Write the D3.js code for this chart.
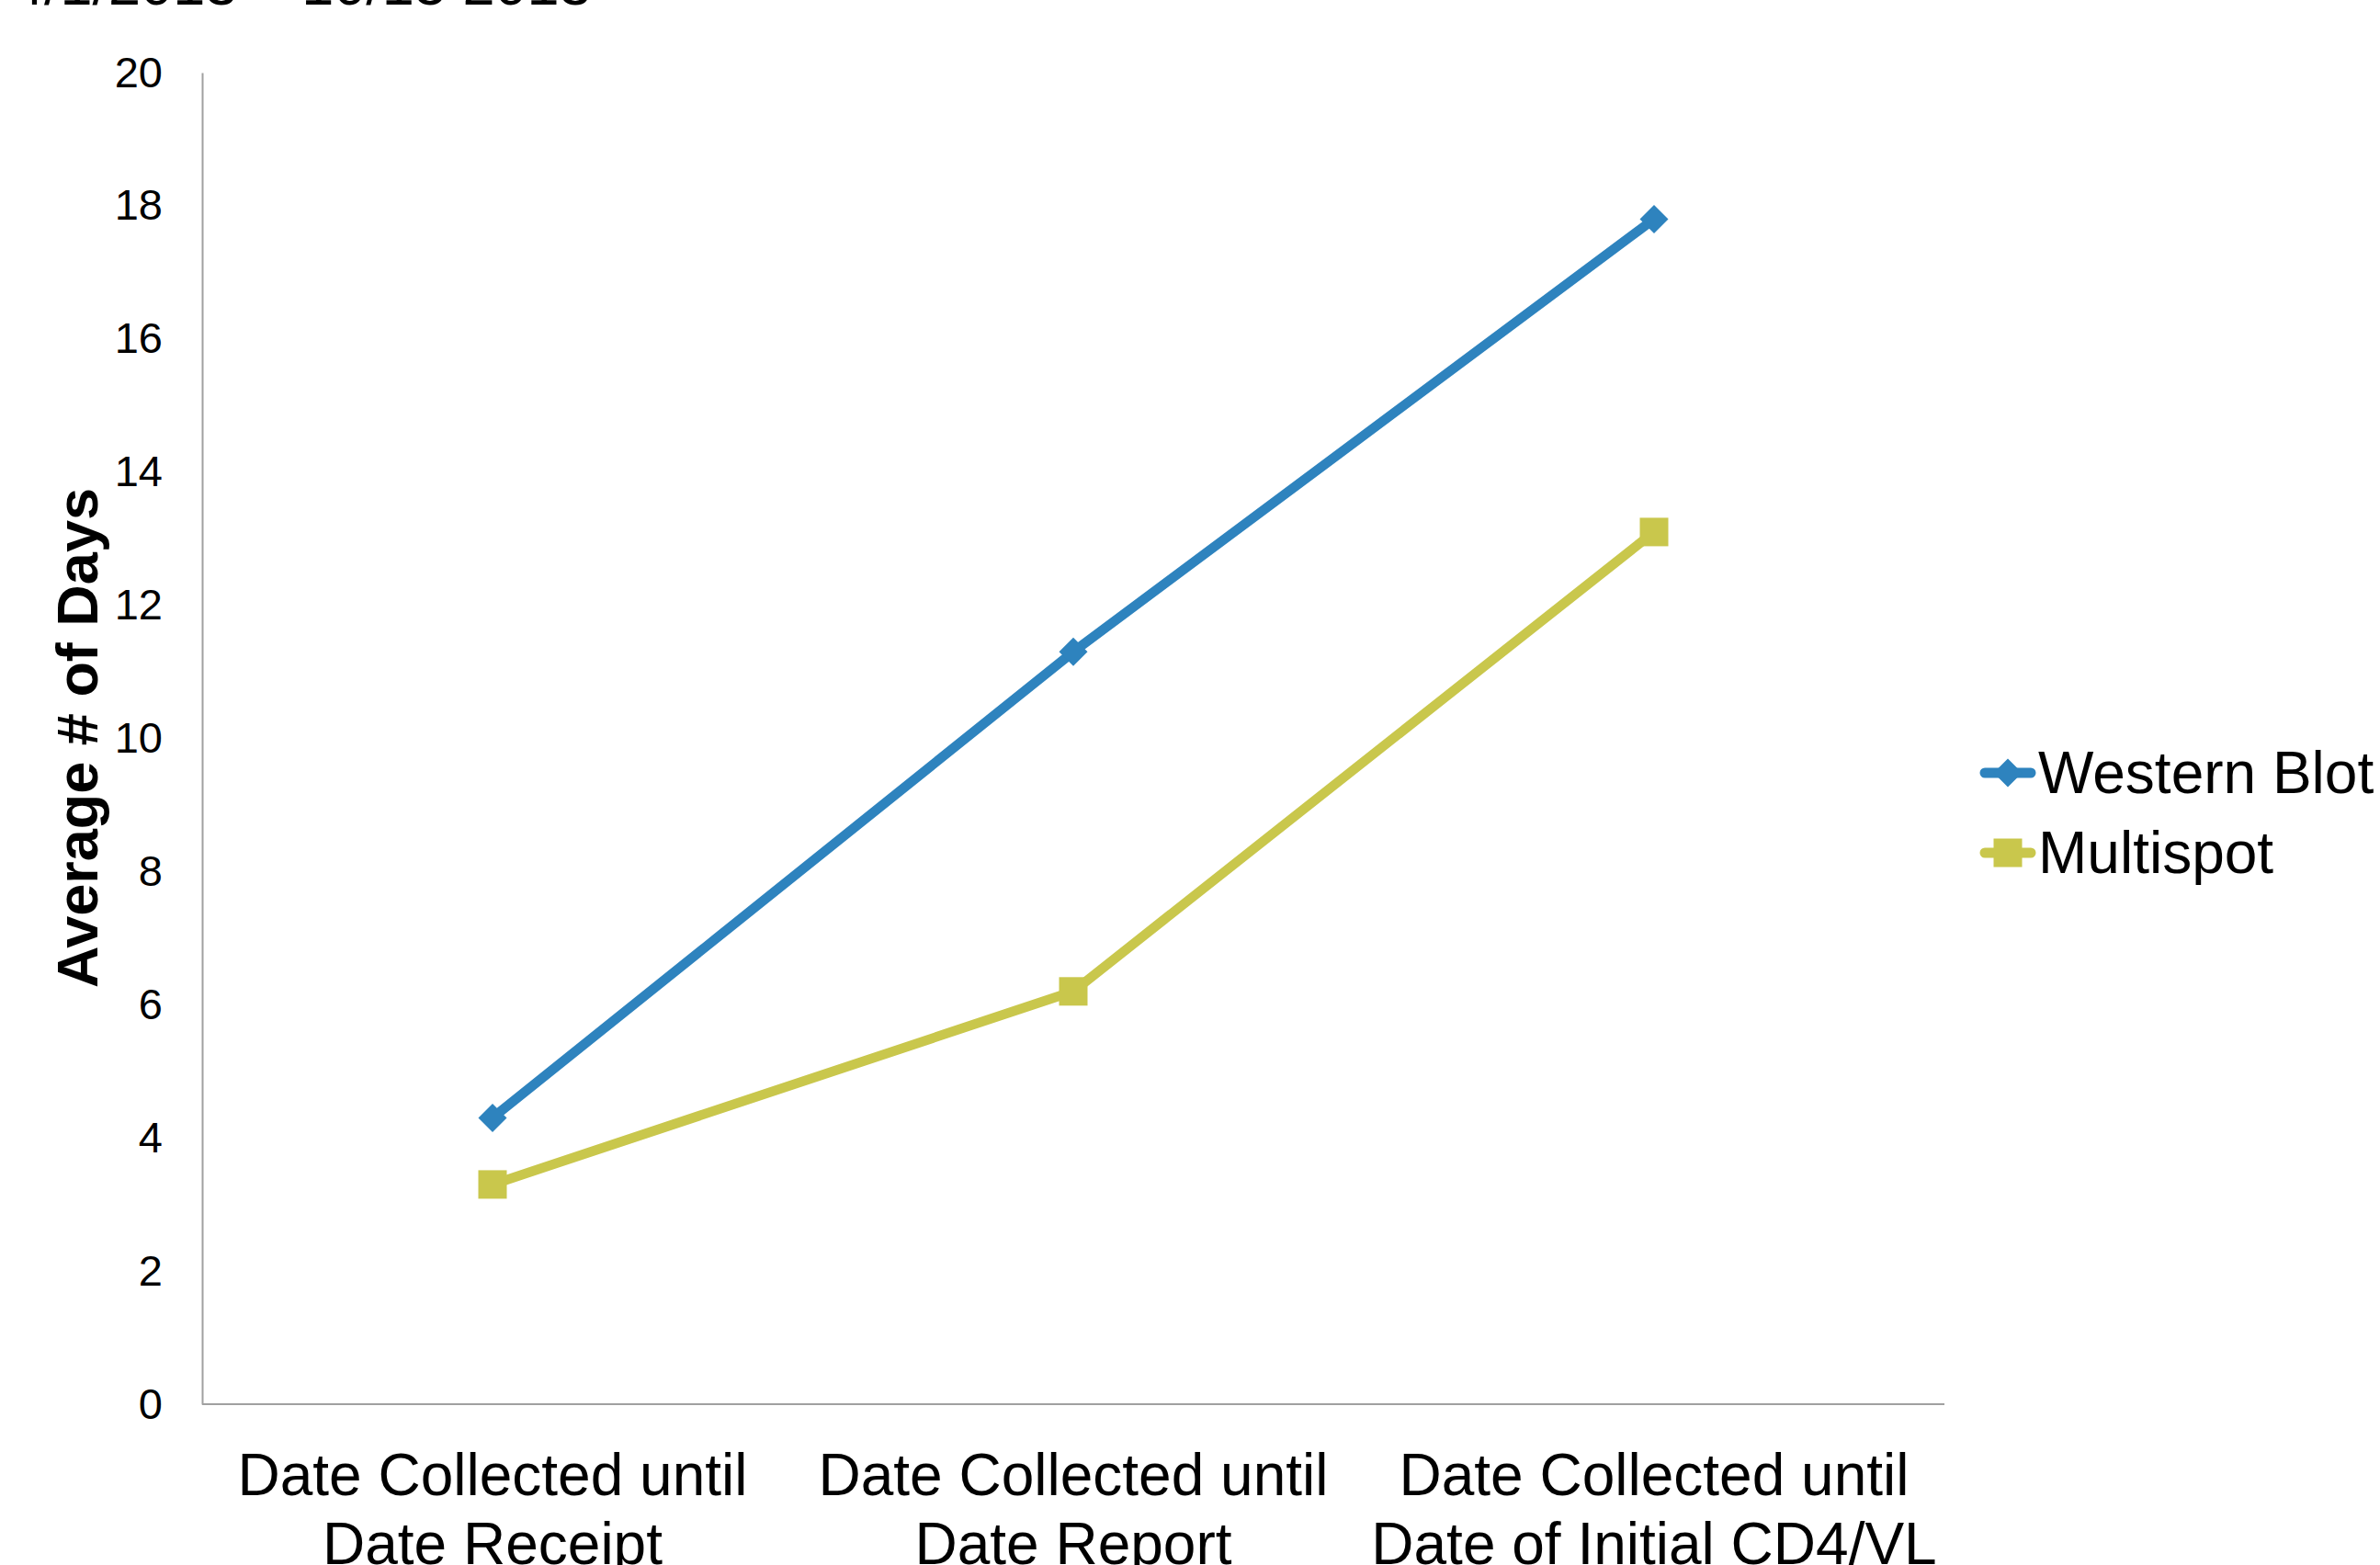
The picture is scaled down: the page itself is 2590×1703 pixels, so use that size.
<!DOCTYPE html>
<html>
<head>
<meta charset="utf-8">
<script src="https://cdn.jsdelivr.net/npm/d3@7"></script>
<style>
  html, body { margin: 0; padding: 0; background: #fff; }
  svg { display: block; }
  text { font-family: "Liberation Sans", Arial, sans-serif; fill: #000; }
</style>
</head>
<body>
<svg id="chart" width="2590" height="1703"></svg>
<script>
// ---- data ----
const categories = [
  ["Date Collected until", "Date Receipt"],
  ["Date Collected until", "Date Report"],
  ["Date Collected until", "Date of Initial CD4/VL"]
];
const westernBlot = [4.3, 11.3, 17.8];
const multispot = [3.3, 6.2, 13.1];
const seriesNames = ["Western Blot", "Multispot"];
const yTicks = [0, 2, 4, 6, 8, 10, 12, 14, 16, 18, 20];
const titleText = "4/1/2013 \u2013 10/15 2013";
const yAxisTitle = "Average # of Days";

// ---- layout ----
const svg = d3.select("#chart");
const plot = { left: 220, right: 2116, top: 79, bottom: 1528 };
const colors = ["#2E83BE", "#C9C74C"];

const x = d3.scalePoint()
  .domain(d3.range(categories.length))
  .range([plot.left, plot.right])
  .padding(0.5);
const y = d3.scaleLinear().domain([0, 20]).range([plot.bottom, plot.top]);

// clipped title at top (cut off in the original as well)
svg.append("text")
  .attr("x", 13).attr("y", 5)
  .attr("font-size", 63)
  .text(titleText);

// y axis
const yAxis = d3.axisLeft(y).tickValues(yTicks).tickSize(0).tickPadding(43).tickFormat(d3.format("d"));
const gy = svg.append("g").attr("transform", `translate(${plot.left},0)`).call(yAxis);
gy.select(".domain").attr("stroke", "#A0A0A0").attr("stroke-width", 2);
gy.selectAll(".tick text")
  .attr("font-family", "Liberation Sans, Arial, sans-serif")
  .attr("font-size", 47)
  .attr("fill", "#000");

// x axis
const xAxis = d3.axisBottom(x).tickSize(0).tickFormat(() => "");
const gx = svg.append("g").attr("transform", `translate(0,${plot.bottom})`).call(xAxis);
gx.select(".domain").attr("d", `M${plot.left},0H${plot.right}`).attr("stroke", "#A0A0A0").attr("stroke-width", 2);

// category labels
categories.forEach((lines, i) => {
  const t = svg.append("text")
    .attr("text-anchor", "middle")
    .attr("font-size", 64);
  lines.forEach((ln, j) => {
    t.append("tspan").attr("x", x(i)).attr("y", 1627 + j * 75).text(ln);
  });
});

// y axis title
svg.append("text")
  .attr("transform", `translate(106,803) rotate(-90)`)
  .attr("text-anchor", "middle")
  .attr("font-size", 63)
  .attr("font-weight", "bold")
  .text(yAxisTitle);

// lines
const series = [westernBlot, multispot];
const line = d3.line().x((d, i) => x(i)).y(d => y(d));
series.forEach((vals, s) => {
  svg.append("path")
    .datum(vals)
    .attr("d", line)
    .attr("fill", "none")
    .attr("stroke", colors[s])
    .attr("stroke-width", 10.5)
    .attr("stroke-linejoin", "round");
});

// markers
const diamond = (cx, cy, r) => `M${cx},${cy - r}L${cx + r},${cy}L${cx},${cy + r}L${cx - r},${cy}Z`;
svg.append("g").selectAll("path").data(westernBlot).join("path")
  .attr("d", (d, i) => diamond(x(i), y(d), 15.5))
  .attr("fill", colors[0]);
svg.append("g").selectAll("rect").data(multispot).join("rect")
  .attr("x", (d, i) => x(i) - 15.5)
  .attr("y", d => y(d) - 15.5)
  .attr("width", 31).attr("height", 31)
  .attr("fill", colors[1]);

// legend
const legY = [841, 928];
seriesNames.forEach((name, s) => {
  const g = svg.append("g");
  g.append("line")
    .attr("x1", 2160).attr("x2", 2210)
    .attr("y1", legY[s]).attr("y2", legY[s])
    .attr("stroke", colors[s]).attr("stroke-width", 11).attr("stroke-linecap", "round");
  if (s === 0) {
    g.append("path").attr("d", diamond(2185, legY[s], 15.5)).attr("fill", colors[s]);
  } else {
    g.append("rect").attr("x", 2185 - 15.5).attr("y", legY[s] - 15.5)
      .attr("width", 31).attr("height", 31).attr("fill", colors[s]);
  }
  g.append("text")
    .attr("x", 2218).attr("y", legY[s] + 22)
    .attr("font-size", 64)
    .text(name);
});
</script>
</body>
</html>
